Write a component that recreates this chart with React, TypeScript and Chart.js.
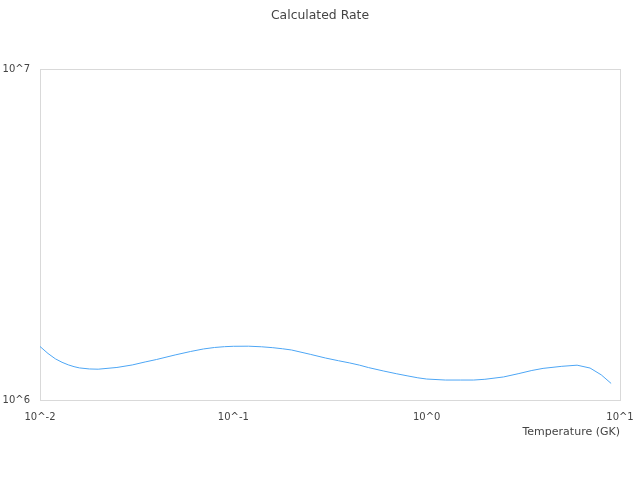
import { useEffect, useRef } from "react";
import { Chart, registerables } from "chart.js";

Chart.register(...registerables);

// Temperatures (GK) and calculated rate
const temperatures = [
  0.01, 0.011, 0.012, 0.013, 0.014, 0.015, 0.016, 0.018, 0.02, 0.025,
  0.03, 0.035, 0.04, 0.05, 0.06, 0.07, 0.08, 0.09, 0.1, 0.12,
  0.14, 0.16, 0.18, 0.2, 0.25, 0.3, 0.35, 0.4, 0.45, 0.5,
  0.6, 0.7, 0.8, 0.9, 1.0, 1.25, 1.5, 1.75, 2.0, 2.5,
  3.0, 3.5, 4.0, 5.0, 6.0, 7.0, 8.0, 9.0,
];
const rates = [
  1.451e6, 1.382e6, 1.332e6, 1.3e6, 1.277e6, 1.261e6, 1.25e6, 1.241e6, 1.239e6, 1.254e6,
  1.276e6, 1.303e6, 1.325e6, 1.368e6, 1.401e6, 1.426e6, 1.441e6, 1.449e6, 1.453e6, 1.454e6,
  1.448e6, 1.439e6, 1.428e6, 1.416e6, 1.374e6, 1.339e6, 1.314e6, 1.294e6, 1.274e6, 1.253e6,
  1.223e6, 1.2e6, 1.182e6, 1.167e6, 1.157e6, 1.149e6, 1.149e6, 1.149e6, 1.155e6, 1.174e6,
  1.202e6, 1.228e6, 1.246e6, 1.264e6, 1.274e6, 1.249e6, 1.191e6, 1.122e6,
];

const xTicks = [0.01, 0.1, 1, 10];
const xTickLabels = ["10^-2", "10^-1", "10^0", "10^1"];
const yTicks = [1e6, 1e7];
const yTickLabels = ["10^6", "10^7"];

// plain box around the plot area
const frame = {
  id: "frame",
  beforeDatasetsDraw(chart: Chart) {
    const { ctx, chartArea } = chart;
    ctx.save();
    ctx.strokeStyle = "#d9d9d9";
    ctx.lineWidth = 1;
    ctx.strokeRect(
      Math.round(chartArea.left) + 0.5,
      Math.round(chartArea.top) + 0.5,
      Math.round(chartArea.right - chartArea.left),
      Math.round(chartArea.bottom - chartArea.top)
    );
    ctx.restore();
  },
};

function RateChart() {
  const chartRef = useRef<HTMLCanvasElement | null>(null);
  const chartInstanceRef = useRef<Chart | null>(null);

  useEffect(() => {
    if (!chartRef.current) return;
    if (chartInstanceRef.current) chartInstanceRef.current.destroy();

    chartInstanceRef.current = new Chart(chartRef.current, {
      type: "line",
      data: {
        datasets: [
          {
            label: "Rate",
            data: temperatures.map((t, i) => ({ x: t, y: rates[i] })),
            borderColor: "#4da6f5",
            borderWidth: 1,
            pointRadius: 0,
            tension: 0,
            fill: false,
          },
        ],
      },
      options: {
        responsive: false,
        animation: false,
        layout: { padding: { left: 0, right: 0, top: 0, bottom: 39 } },
        scales: {
          x: {
            type: "logarithmic",
            min: 0.01,
            max: 10,
            grid: { display: false, drawTicks: false },
            border: { display: false },
            afterBuildTicks: (scale: any) => {
              scale.ticks = xTicks.map((v) => ({ value: v }));
            },
            afterFit: (scale: any) => {
              scale.height = 41;
              // the end labels may overhang the plot; margins come from the other axes
              scale.paddingLeft = 0;
              scale.paddingRight = 0;
            },
            ticks: {
              autoSkip: false,
              maxRotation: 0,
              padding: 11,
              color: "#444",
              font: { size: 10 },
              callback: (v: any) => xTickLabels[xTicks.indexOf(Number(v))] ?? "",
            },
            title: {
              display: true,
              text: "Temperature (GK)",
              align: "end",
              color: "#444",
              font: { size: 11 },
              padding: { top: 0, bottom: 2 },
            },
          },
          y: {
            type: "logarithmic",
            min: 1e6,
            max: 1e7,
            grid: { display: false, drawTicks: false },
            border: { display: false },
            afterBuildTicks: (scale: any) => {
              scale.ticks = yTicks.map((v) => ({ value: v }));
            },
            afterFit: (scale: any) => {
              scale.width = 40;
            },
            ticks: {
              padding: 10,
              color: "#444",
              font: { size: 10 },
              callback: (v: any) => yTickLabels[yTicks.indexOf(Number(v))] ?? "",
            },
          },
          // empty axis that only keeps the right margin, so the title stays centred on the canvas
          spacer: {
            type: "linear",
            position: "right",
            grid: { display: false, drawTicks: false },
            border: { display: false },
            ticks: { display: false },
            afterFit: (scale: any) => {
              scale.width = 20;
            },
          },
        },
        plugins: {
          legend: { display: false },
          tooltip: { enabled: false },
          title: {
            display: true,
            text: "Calculated Rate",
            color: "#444",
            font: { size: 12.4, weight: "normal" },
            padding: { top: 8, bottom: 46.1 },
          },
        },
      },
      plugins: [frame],
    });

    return () => {
      if (chartInstanceRef.current) {
        chartInstanceRef.current.destroy();
        chartInstanceRef.current = null;
      }
    };
  }, []);

  return <canvas ref={chartRef} width={640} height={480}></canvas>;
}

export default function App() {
  Chart.defaults.font.family = "'DejaVu Sans', sans-serif";
  return (
    <div style={{ position: "fixed", left: 0, top: 0, width: 640, height: 480, background: "#fff" }}>
      <RateChart />
    </div>
  );
}
